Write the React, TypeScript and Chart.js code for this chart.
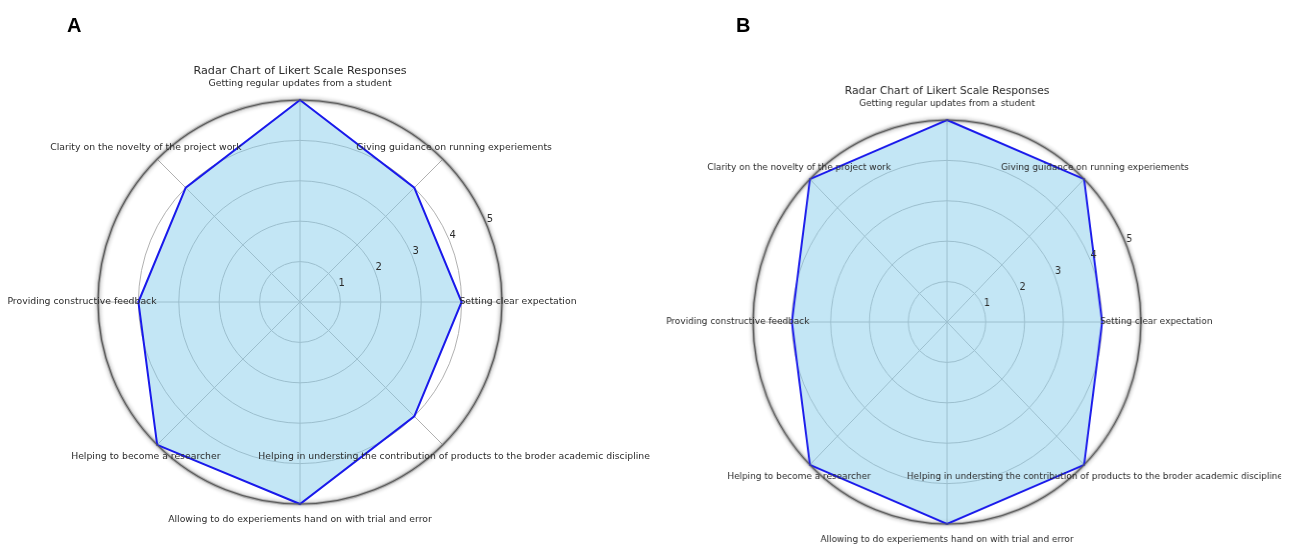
import React, { useEffect, useRef } from "react";
import { Chart, registerables } from "chart.js";

Chart.register(...registerables);

// ---------- data ----------
const categories = [
  "Getting regular updates from a student",
  "Giving guidance on running experiements",
  "Setting clear expectation",
  "Helping in understing the contribution of products to the broder academic discipline",
  "Allowing to do experiements hand on with trial and error",
  "Helping to become a researcher",
  "Providing constructive feedback",
  "Clarity on the novelty of the project work",
];
const valuesA = [5, 4, 4, 4, 5, 5, 4, 4];
const valuesB = [5, 5, 4, 5, 5, 5, 4, 5];
const tickValues = [1, 2, 3, 4, 5];
const chartTitle = "Radar Chart of Likert Scale Responses";
const panelLetters = ["A", "B"];

// ---------- layout ----------
type PanelLayout = { cx: number; cy: number; r: number; squash: number };
const layoutA: PanelLayout = { cx: 300, cy: 302, r: 202, squash: 1 };
const layoutB: PanelLayout = { cx: 947, cy: 322, r: 202, squash: 0.96 };

const W = 1295;
const H = 547;

function RadarPanel({ values, layout }: { values: number[]; layout: PanelLayout }) {
  const ref = useRef<HTMLCanvasElement | null>(null);

  useEffect(() => {
    const canvas = ref.current;
    if (!canvas) return;

    const decor = {
      id: "decor",
      beforeDatasetsDraw(chart: any) {
        const s: any = chart.scales.r;
        const ctx = chart.ctx as CanvasRenderingContext2D;
        ctx.save();
        ctx.beginPath();
        ctx.arc(s.xCenter, s.yCenter, s.drawingArea, 0, Math.PI * 2);
        ctx.strokeStyle = "rgba(160,160,160,0.8)";
        ctx.lineWidth = 3;
        ctx.shadowColor = "rgba(0,0,0,0.4)";
        ctx.shadowBlur = 4;
        ctx.stroke();
        ctx.restore();
      },
      afterDatasetsDraw(chart: any) {
        const s: any = chart.scales.r;
        const ctx = chart.ctx as CanvasRenderingContext2D;
        ctx.save();
        ctx.beginPath();
        ctx.arc(s.xCenter, s.yCenter, s.drawingArea, 0, Math.PI * 2);
        ctx.strokeStyle = "#5a5a5a";
        ctx.lineWidth = 1.1;
        ctx.stroke();

        ctx.fillStyle = "#2b2b2b";
        ctx.textAlign = "center";
        ctx.textBaseline = "middle";

        ctx.font = '9.3px "DejaVu Sans"';
        categories.forEach((label, i) => {
          const p = s.getPointPosition(i, s.drawingArea + 16);
          ctx.fillText(label, p.x, p.y);
        });

        ctx.font = '10px "DejaVu Sans"';
        const a = (23.5 * Math.PI) / 180;
        tickValues.forEach((v) => {
          const d = s.getDistanceFromCenterForValue(v) + 5;
          ctx.fillText(String(v), s.xCenter + d * Math.cos(a), s.yCenter - d * Math.sin(a));
        });

        ctx.font = '11.2px "DejaVu Sans"';
        ctx.fillText(chartTitle, s.xCenter, s.yCenter - s.drawingArea - 29);
        ctx.restore();
      },
    };

    const gridGray = "#b0b0b0";
    const chart = new Chart(canvas, {
      type: "radar",
      data: {
        labels: categories,
        datasets: [
          {
            data: values,
            backgroundColor: "rgba(135,206,235,0.5)",
            borderColor: "rgb(25,25,235)",
            borderWidth: 2,
            pointRadius: 0,
            pointHoverRadius: 0,
            fill: true,
          },
        ],
      },
      options: {
        responsive: false,
        animation: false,
        events: [],
        plugins: { legend: { display: false }, tooltip: { enabled: false }, title: { display: false } },
        scales: {
          r: {
            min: 0,
            max: 5,
            ticks: { display: false, stepSize: 1 },
            pointLabels: { display: false },
            grid: {
              z: -1,
              circular: true,
              color: gridGray,
              lineWidth: 1,
            },
            angleLines: { color: gridGray, lineWidth: 1 },
            afterFit: (sc: any) => {
              sc.xCenter = layout.cx;
              sc.yCenter = layout.cy;
              sc.drawingArea = layout.r;
            },
          } as any,
        },
      },
      plugins: [decor],
    });

    return () => chart.destroy();
  }, [values, layout]);

  return (
    <canvas
      ref={ref}
      width={W}
      height={H}
      style={{
        position: "absolute",
        left: 0,
        top: 0,
        width: W,
        height: H,
        transform: `scaleX(${layout.squash})`,
        transformOrigin: `${layout.cx}px 0px`,
      }}
    />
  );
}

export default function App() {
  const letterStyle: React.CSSProperties = {
    position: "absolute",
    top: 15,
    fontFamily: '"Liberation Sans", Arial, sans-serif',
    fontWeight: 700,
    fontSize: 20,
    lineHeight: "20px",
    color: "#000",
  };
  return (
    <div style={{ position: "absolute", left: 0, top: 0, width: W, height: H, background: "#fff", overflow: "hidden" }}>
      <RadarPanel values={valuesA} layout={layoutA} />
      <RadarPanel values={valuesB} layout={layoutB} />
      <div style={{ ...letterStyle, left: 67 }}>{panelLetters[0]}</div>
      <div style={{ ...letterStyle, left: 736 }}>{panelLetters[1]}</div>
    </div>
  );
}
